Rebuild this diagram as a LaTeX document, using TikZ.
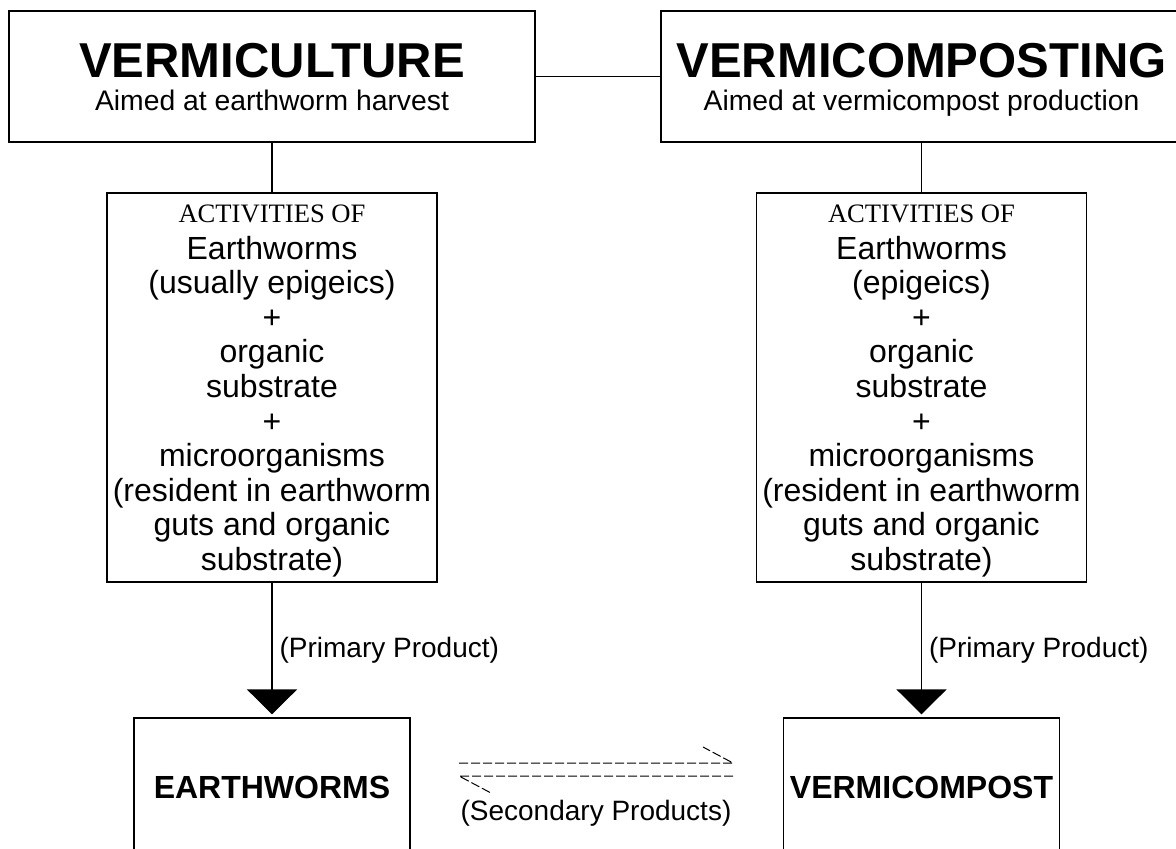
\documentclass[tikz,border=0pt]{standalone}
\usepackage{fontspec}
\setmainfont{Liberation Serif}
\setsansfont{Liberation Sans}
\usetikzlibrary{arrows.meta}
\newcommand{\ttlfont}{\bfseries\fontsize{49}{49}\selectfont}
\newcommand{\actfont}{\rmfamily\fontsize{26.6}{30}\selectfont}
\tikzset{
  box/.style={draw,line width=1.2pt,inner sep=0pt,align=center,text depth=0pt},
  titlebox/.style={box,minimum height=131pt,font=\sffamily\fontsize{28.3}{33}\selectfont},
  actbox/.style={box,minimum width=330pt,minimum height=389pt,font=\sffamily\fontsize{32}{34.6}\selectfont},
  prodbox/.style={box,minimum width=276pt,minimum height=138pt,font=\sffamily\bfseries\fontsize{32}{38}\selectfont},
  link/.style={line width=1.2pt},
  prod/.style={line width=1.2pt,-{Triangle[width=50pt,length=25pt]},shorten >=3pt},
  plab/.style={right,inner sep=7pt,font=\sffamily\fontsize{28}{32}\selectfont},
  secline/.style={line width=1pt,dash pattern=on 9pt off 3pt},
  slab/.style={font=\sffamily\fontsize{28}{32}\selectfont}
}
\begin{document}
\begin{tikzpicture}[x=1pt,y=-1pt]
  \useasboundingbox (0,0) rectangle (1176,849);
  \node[titlebox,minimum width=526pt] (cult) at (272,76.5) {{\ttlfont VERMICULTURE}\\Aimed at earthworm harvest};
  \node[titlebox,minimum width=521pt] (comp) at (921.5,76.5) {{\ttlfont VERMICOMPOSTING}\\Aimed at vermicompost production};
  \node[actbox] (cultact) at (272,387.5) {{\actfont ACTIVITIES OF}\\[2.4pt]Earthworms\\(usually epigeics)\\+\\organic\\substrate\\+\\microorganisms\\(resident in earthworm\\guts and organic\\substrate)};
  \node[actbox] (compact) at (921.5,387.5) {{\actfont ACTIVITIES OF}\\[2.4pt]Earthworms\\(epigeics)\\+\\organic\\substrate\\+\\microorganisms\\(resident in earthworm\\guts and organic\\substrate)};
  \node[prodbox] (worms) at (272,787) {EARTHWORMS};
  \node[prodbox] (vcomp) at (921.5,787) {VERMICOMPOST};
  \draw[link] (cult.east) -- (comp.west);
  \draw[link] (cult.south) -- (cultact.north);
  \draw[link] (comp.south) -- (compact.north);
  \draw[prod] (cultact.south) -- node[plab] {(Primary Product)} (worms.north);
  \draw[prod] (compact.south) -- node[plab] {(Primary Product)} (vcomp.north);
  \coordinate (sa) at (459,763); \coordinate (sb) at (733,763);
  \coordinate (sc) at (733,776); \coordinate (sd) at (459,776);
  \draw[secline] (sa) -- (sb) -- ++(-30,-16);
  \draw[secline] (sc) -- (sd) -- ++(32,17);
  \node[slab] (seclab) at (596,813) {(Secondary Products)};
\end{tikzpicture}
\end{document}
